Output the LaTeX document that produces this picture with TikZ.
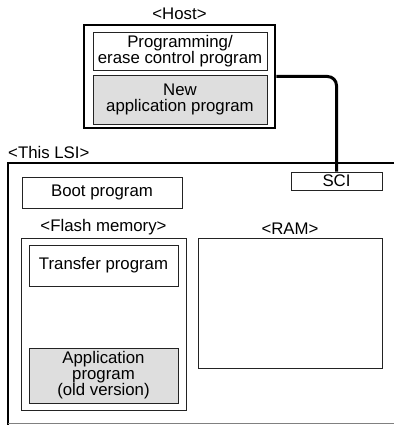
\documentclass[tikz,border=0pt]{standalone}
\usepackage{fontspec}
\setmainfont{Liberation Sans}
\usepackage{xcolor}
\usepackage{tikz}
\usetikzlibrary{positioning}
\definecolor{boxgray}{RGB}{222,222,222}
\definecolor{edgegray}{RGB}{35,35,35}
\newcommand{\figfont}{\fontsize{16.8}{15.6}\selectfont}
\tikzset{
  membox/.style={
    rectangle, draw=edgegray, line width=0.9pt,
    inner sep=0pt, align=center, font=\figfont
  },
  memboxG/.style={membox, fill=boxgray},
  outerbox/.style={rectangle, draw=black, line width=2.5pt, inner sep=0pt},
  tag/.style={inner sep=0pt, font=\figfont},
  link/.style={line width=3pt, rounded corners=9pt},
  lsiedge/.style={line width=2pt}
}

\begin{document}
\begin{tikzpicture}[x=1pt, y=-1pt]
  \useasboundingbox (0,0) rectangle (394,425);

  % Draw host side
  \node[outerbox, minimum width=191pt, minimum height=103pt] (host) at (179.5,76.5) {};
  \node[tag, above=4pt of host] (hostlbl) {<Host>};
  \node[membox, minimum width=174pt, minimum height=38pt] (ctrl) at (180,51)
    {Programming/\\erase control program};
  \node[memboxG, minimum width=174pt, minimum height=49pt] (newapp) at (180,99.5)
    {New\\application program};

  % Draw LSI outline (open on the right)
  \coordinate (lsi) at (8,163);
  \draw[lsiedge] (394,163) -- (lsi) -- (8,425);
  \draw[gray, line width=1pt] (8,423) -- (394,423);
  \node[tag, above right=4pt and 0pt of lsi] (lsilbl) {<This LSI>};

  % Draw blocks inside the LSI
  \node[membox, minimum width=91pt, minimum height=18pt] (sci) at (336.5,181) {SCI};
  \node[membox, minimum width=160pt, minimum height=31pt] (boot) at (102,192.5) {Boot program};

  \node[membox, minimum width=165pt, minimum height=172pt] (flash) at (103.5,324.5) {};
  \node[tag, above=3pt of flash] (flashlbl) {<Flash memory>};
  \node[membox, minimum width=149pt, minimum height=41pt] (transfer) at (103.5,265.5)
    {Transfer program};
  \node[memboxG, minimum width=149pt, minimum height=55pt] (oldapp) at (103.5,375.5)
    {Application\\program\\(old version)};

  \node[membox, minimum width=184pt, minimum height=130pt] (ram) at (290,303.5) {};
  \node[tag, above=3pt of ram] (ramlbl) {<RAM>};

  % Draw serial link
  \draw[link] (host.east) -| (sci.north);
\end{tikzpicture}
\end{document}
